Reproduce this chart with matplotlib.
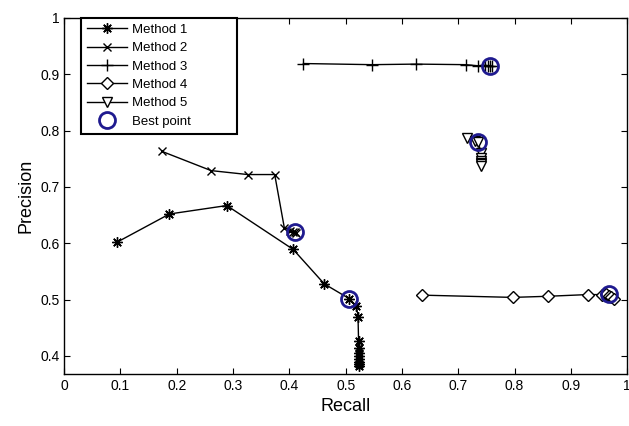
import matplotlib
matplotlib.use("Agg")
import matplotlib.pyplot as plt

plt.rcParams['font.family'] = ['Liberation Sans', 'DejaVu Sans']

m1_x = [0.094, 0.187, 0.289, 0.407, 0.462, 0.506, 0.519, 0.522, 0.523, 0.523, 0.523, 0.524, 0.524, 0.524, 0.524, 0.524]
m1_y = [0.602, 0.652, 0.667, 0.589, 0.528, 0.502, 0.489, 0.470, 0.426, 0.415, 0.405, 0.400, 0.395, 0.390, 0.386, 0.382]

m2_x = [0.174, 0.261, 0.326, 0.374, 0.391, 0.402, 0.406, 0.410, 0.412]
m2_y = [0.763, 0.729, 0.722, 0.722, 0.628, 0.622, 0.620, 0.620, 0.618]

m3_x = [0.425, 0.547, 0.625, 0.713, 0.736, 0.748, 0.752, 0.757, 0.760]
m3_y = [0.919, 0.917, 0.918, 0.917, 0.915, 0.916, 0.915, 0.915, 0.914]

m4_x = [0.635, 0.797, 0.860, 0.930, 0.955, 0.963, 0.968, 0.972, 0.976]
m4_y = [0.508, 0.504, 0.506, 0.509, 0.509, 0.510, 0.507, 0.504, 0.501]

m5_x = [0.716, 0.730, 0.736, 0.740, 0.740, 0.740, 0.741, 0.741, 0.741]
m5_y = [0.787, 0.782, 0.779, 0.761, 0.752, 0.746, 0.742, 0.740, 0.738]

best_x = [0.506, 0.410, 0.757, 0.968, 0.736]
best_y = [0.502, 0.620, 0.915, 0.510, 0.779]

fig = plt.figure(figsize=(6.29, 4.26), dpi=100)
ax = fig.add_axes([0.102, 0.122, 0.895, 0.836])

kw = dict(color='black', linewidth=1.0, markeredgewidth=1.0)
ax.plot(m1_x, m1_y, marker=(8, 2, 0), markersize=7.5, label='Method 1', **kw)
ax.plot(m2_x, m2_y, marker='x', markersize=6, label='Method 2', **kw)
ax.plot(m3_x, m3_y, marker='+', markersize=8, label='Method 3', **kw)
ax.plot(m4_x, m4_y, marker='D', markersize=6, markerfacecolor='white', label='Method 4', **kw)
ax.plot(m5_x, m5_y, marker='v', markersize=7, markerfacecolor='white', label='Method 5', **kw)
ax.plot(best_x, best_y, linestyle='none', marker='o', markersize=11.5,
        markerfacecolor='none', markeredgecolor='#1f1a8f', markeredgewidth=2.0, label='Best point')

ax.set_xlim(0, 1)
ax.set_ylim(0.368, 1)
ax.set_xticks([0, 0.1, 0.2, 0.3, 0.4, 0.5, 0.6, 0.7, 0.8, 0.9, 1])
ax.set_xticklabels(['0', '0.1', '0.2', '0.3', '0.4', '0.5', '0.6', '0.7', '0.8', '0.9', '1'])
ax.set_yticks([0.4, 0.5, 0.6, 0.7, 0.8, 0.9, 1])
ax.set_yticklabels(['0.4', '0.5', '0.6', '0.7', '0.8', '0.9', '1'])
ax.tick_params(direction='in', length=4, labelsize=10, top=True, right=True)
for s in ax.spines.values():
    s.set_linewidth(1.0)
ax.set_xlabel('Recall', fontsize=13)
ax.set_ylabel('Precision', fontsize=13)

leg = ax.legend(loc='upper left', bbox_to_anchor=(0.03, 0.0, 0.277, 1.0), mode='expand',
                fontsize=9.5, frameon=True,
                fancybox=False, edgecolor='black', framealpha=1, handlelength=3.0,
                borderpad=0.45, labelspacing=0.46, handletextpad=0.4, borderaxespad=0.0)
leg.get_frame().set_linewidth(1.5)

fig.savefig('out.png', dpi=100)
